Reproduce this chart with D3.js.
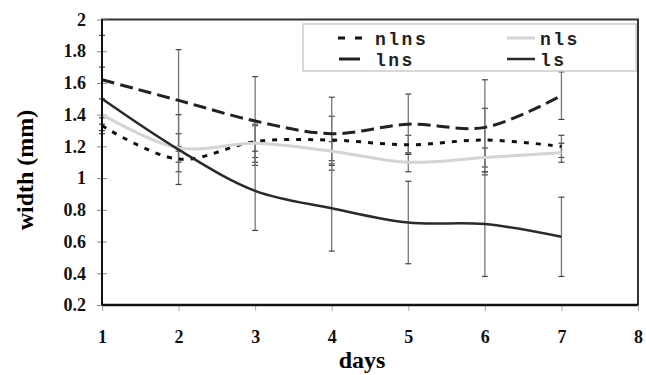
<!DOCTYPE html>
<html>
<head>
<meta charset="utf-8">
<script src="https://cdn.jsdelivr.net/npm/d3@7/dist/d3.min.js"></script>
<style>
  body { margin: 0; background: #fff; }
  .tick text { font-family: "Liberation Serif", "Times New Roman", serif; font-weight: bold; font-size: 18px; fill: #111; }
  .legend text { font-family: "Liberation Mono", "Courier New", monospace; font-weight: bold; font-size: 18px; letter-spacing: 2.5px; fill: #222; }
</style>
</head>
<body>
<div id="chart"></div>
<script>
  // values
  var days = [1, 2, 3, 4, 5, 6, 7];
  var nlns = [1.33, 1.12, 1.23, 1.24, 1.21, 1.24, 1.20];
  var nls  = [1.40, 1.19, 1.22, 1.17, 1.10, 1.13, 1.16];
  var lns  = [1.62, 1.49, 1.36, 1.28, 1.34, 1.32, 1.52];
  var ls   = [1.50, 1.18, 0.92, 0.81, 0.72, 0.71, 0.63];
  // error bar half-widths
  var nlnsErr = [0.05, 0.08, 0.10, 0.15, 0.06, 0.20, 0.07];
  var nlsErr  = [0.10, 0.09, 0.12, 0.06, 0.06, 0.06, 0.06];
  var lnsErr  = [0.28, 0.32, 0.28, 0.23, 0.19, 0.30, 0.15];
  var lsErr   = [0.20, 0.22, 0.25, 0.27, 0.26, 0.33, 0.25];

  var xTicks = [1, 2, 3, 4, 5, 6, 7, 8];
  var yTicks = [0.2, 0.4, 0.6, 0.8, 1, 1.2, 1.4, 1.6, 1.8, 2];

  var width = 646, height = 375;
  var margin = {top: 19.5, right: 8, bottom: 70, left: 102};

  var svg = d3.select("#chart").append("svg")
    .attr("width", width)
    .attr("height", height);

  var x = d3.scaleLinear().domain([1, 8]).range([margin.left, width - margin.right]);
  var y = d3.scaleLinear().domain([0.2, 2]).range([height - margin.bottom, margin.top]);

  var series = [
    {name: "nlns", values: nlns, err: nlnsErr, color: "#111", w: 3, dash: "5,7"},
    {name: "nls", values: nls, err: nlsErr, color: "#d4d4d4", w: 3, dash: null},
    {name: "lns", values: lns, err: lnsErr, color: "#222", w: 3, dash: "13,6"},
    {name: "ls", values: ls, err: lsErr, color: "#2a2a2a", w: 2.5, dash: null}
  ];

  // frame
  svg.append("rect")
    .attr("x", x(1)).attr("y", y(2))
    .attr("width", x(8) - x(1)).attr("height", y(0.2) - y(2))
    .attr("fill", "none").attr("stroke", "#333").attr("stroke-width", 2);

  // axes
  var yAxis = svg.append("g")
    .attr("transform", "translate(" + x(1) + ",0)")
    .call(d3.axisLeft(y).tickValues(yTicks).tickSize(5).tickPadding(11).tickFormat(d3.format("~g")));
  yAxis.select(".domain").remove();
  yAxis.selectAll(".tick line").attr("x2", -5).attr("x1", 5).attr("stroke", "#888");

  var xAxis = svg.append("g")
    .attr("transform", "translate(0," + y(0.2) + ")")
    .call(d3.axisBottom(x).tickValues(xTicks).tickSize(6).tickPadding(19).tickFormat(d3.format("d")));
  xAxis.select(".domain").remove();
  xAxis.selectAll(".tick line").attr("stroke", "#aaa");

  // error bars
  var eb = svg.append("g");
  series.forEach(function(s) {
    days.forEach(function(d, i) {
      var lo = s.values[i] - s.err[i], hi = s.values[i] + s.err[i];
      eb.append("line")
        .attr("x1", x(d)).attr("x2", x(d))
        .attr("y1", y(hi)).attr("y2", y(lo))
        .attr("stroke", "#777").attr("stroke-width", 1.3);
      [lo, hi].forEach(function(v) {
        eb.append("line")
          .attr("x1", x(d) - 3).attr("x2", x(d) + 3)
          .attr("y1", y(v)).attr("y2", y(v))
          .attr("stroke", "#444").attr("stroke-width", 1.2);
      });
    });
  });

  // lines
  var line = d3.line()
    .x(function(d, i) { return x(days[i]); })
    .y(function(d) { return y(d); })
    .curve(d3.curveCatmullRom.alpha(0.5));

  series.forEach(function(s) {
    svg.append("path")
      .attr("d", line(s.values))
      .attr("fill", "none")
      .attr("stroke", s.color)
      .attr("stroke-width", s.w)
      .attr("stroke-dasharray", s.dash);
  });

  // axis lines
  svg.append("line")
    .attr("x1", x(1)).attr("x2", x(1)).attr("y1", y(2)).attr("y2", y(0.2))
    .attr("stroke", "#111").attr("stroke-width", 2);
  svg.append("line")
    .attr("x1", x(1)).attr("x2", x(8)).attr("y1", y(0.2)).attr("y2", y(0.2))
    .attr("stroke", "#111").attr("stroke-width", 2.5);

  // axis titles
  svg.append("text")
    .attr("x", 362).attr("y", 368)
    .attr("text-anchor", "middle")
    .style("font-family", "'Liberation Serif', 'Times New Roman', serif")
    .style("font-weight", "bold").style("font-size", "24px")
    .text("days");
  svg.append("text")
    .attr("transform", "translate(33,170) rotate(-90)")
    .attr("text-anchor", "middle")
    .style("font-family", "'Liberation Serif', 'Times New Roman', serif")
    .style("font-weight", "bold").style("font-size", "24px")
    .text("width (mm)");

  // legend
  var lg = svg.append("g").attr("class", "legend");
  lg.append("rect")
    .attr("x", 303).attr("y", 24).attr("width", 333).attr("height", 47)
    .attr("fill", "#fff").attr("stroke", "#ccc").attr("stroke-width", 1.5);
  var legendPos = [
    {s: series[0], lx: 338, len: 24, tx: 375, ty: 45, dash: "7,10"},
    {s: series[1], lx: 507, len: 28, tx: 540, ty: 45, dash: null},
    {s: series[2], lx: 339, len: 21, tx: 375, ty: 66, dash: null},
    {s: series[3], lx: 507, len: 28, tx: 540, ty: 66, dash: null}
  ];
  legendPos.forEach(function(p) {
    lg.append("line")
      .attr("x1", p.lx).attr("x2", p.lx + p.len)
      .attr("y1", p.ty - 7).attr("y2", p.ty - 7)
      .attr("stroke", p.s.color).attr("stroke-width", p.s.w)
      .attr("stroke-dasharray", p.dash);
    lg.append("text").attr("x", p.tx).attr("y", p.ty).text(p.s.name);
  });
</script>
</body>
</html>
